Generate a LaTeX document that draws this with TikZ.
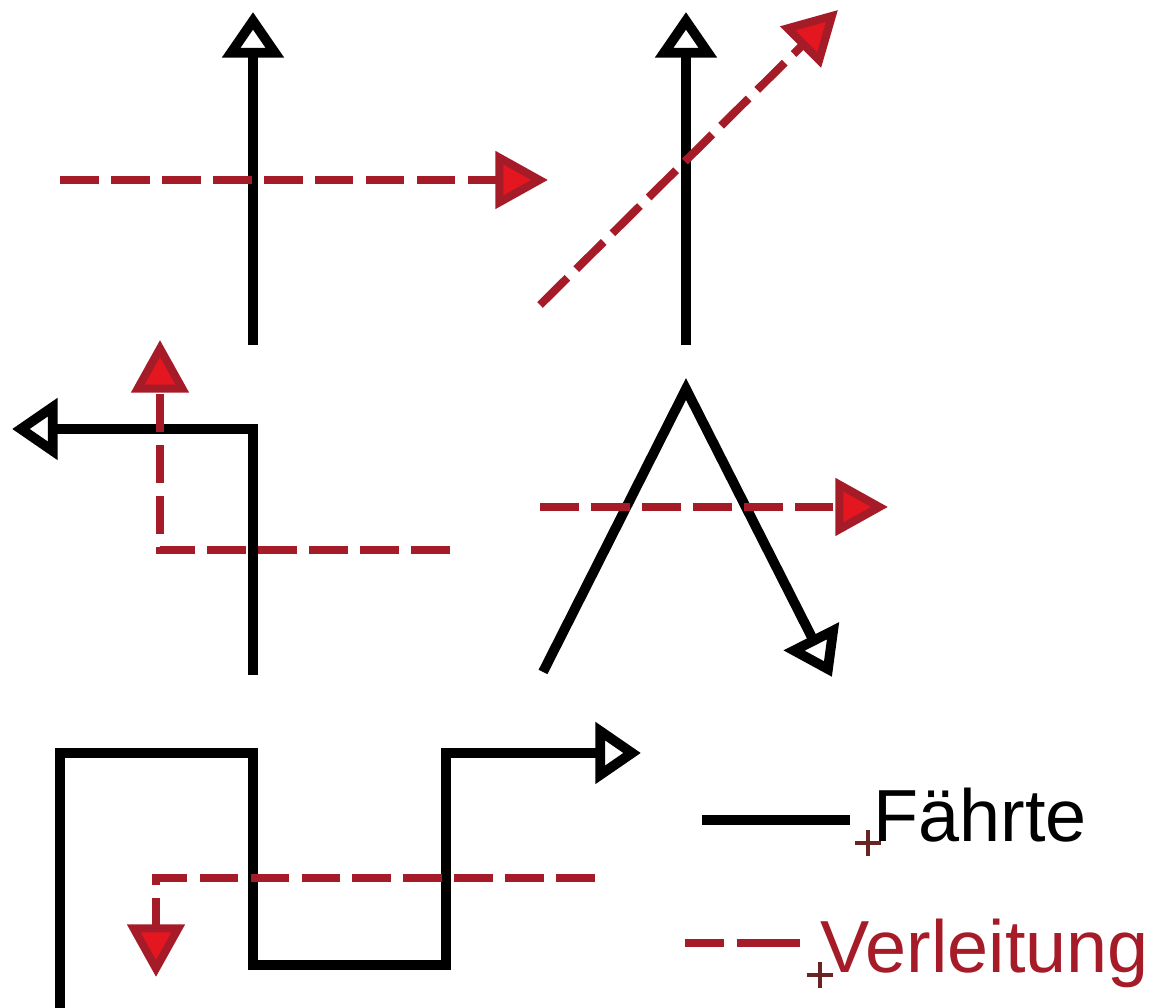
\documentclass[tikz,border=0pt]{standalone}
\usepackage{fontspec}
\setmainfont{Liberation Sans}
\usetikzlibrary{arrows.meta}
\definecolor{vrot}{RGB}{165,28,40}
\definecolor{spitze}{RGB}{228,22,32}
\definecolor{kreuz}{RGB}{105,35,35}

\begin{document}
\begin{tikzpicture}[
    faehrte/.style={line width=2.8pt, black},
    faehrtepfeil/.style={faehrte, -{Triangle[open, length=13pt, width=17pt]}},
    verl/.style={line width=2.3pt, vrot, dash pattern=on 11pt off 3.5pt},
    verlpfeil/.style={verl, -{Triangle[length=15pt, width=16pt, fill=spitze]}},
    kreuzchen/.style={kreuz, line width=0.9pt},
    every node/.style={font=\fontsize{21}{25}\selectfont, inner sep=0pt, anchor=base west}]
    \useasboundingbox (0,0) rectangle (11.59,10.08);

    % Bild 1: gerade, Verleitung quer
    \coordinate (a1) at (2.53,6.63);
    \coordinate (a2) at (2.53,9.96);
    \coordinate (va1) at (0.60,8.28);
    \coordinate (va2) at (5.48,8.28);
    \draw[faehrtepfeil] (a1) -- (a2);
    \draw[verlpfeil] (va1) -- (va2);

    % Bild 2: gerade, Verleitung schraeg
    \coordinate (b1) at (6.86,6.63);
    \coordinate (b2) at (6.86,9.96);
    \coordinate (vb1) at (5.40,7.03);
    \coordinate (vb2) at (8.38,9.98);
    \draw[faehrtepfeil] (b1) -- (b2);
    \draw[verlpfeil] (vb1) -- (vb2);

    % Bild 3: Haken nach links
    \coordinate (c1) at (2.53,3.33);
    \coordinate (c2) at (2.53,5.79);
    \coordinate (c3) at (0.12,5.79);
    \coordinate (vc1) at (4.50,4.58);
    \coordinate (vc2) at (1.60,4.58);
    \coordinate (vc3) at (1.60,6.68);
    \draw[faehrtepfeil] (c1) -- (c2) -- (c3);
    \draw[verlpfeil] (vc1) -- (vc2) -- (vc3);

    % Bild 4: Spitzkehre
    \coordinate (d1) at (5.43,3.36);
    \coordinate (d2) at (6.86,6.19);
    \coordinate (d3) at (8.32,3.31);
    \coordinate (vd1) at (5.40,5.01);
    \coordinate (vd2) at (8.88,5.01);
    \draw[faehrtepfeil] (d1) -- (d2) -- (d3);
    \draw[verlpfeil] (vd1) -- (vd2);

    % Bild 5: Maeander
    \coordinate (e1) at (0.60,0);
    \coordinate (e2) at (0.60,2.55);
    \coordinate (e3) at (2.53,2.55);
    \coordinate (e4) at (2.53,0.43);
    \coordinate (e5) at (4.46,0.43);
    \coordinate (e6) at (4.46,2.55);
    \coordinate (e7) at (6.41,2.55);
    \coordinate (ve1) at (5.95,1.30);
    \coordinate (ve2) at (1.56,1.30);
    \coordinate (ve3) at (1.56,0.31);
    \draw[faehrtepfeil] (e1) -- (e2) -- (e3) -- (e4) -- (e5) -- (e6) -- (e7);
    \draw[verlpfeil] (ve1) -- (ve2) -- (ve3);

    % Legende
    \coordinate (l1) at (7.02,1.88);
    \coordinate (l2) at (8.50,1.88);
    \coordinate (l3) at (6.85,0.65);
    \coordinate (l4) at (8.00,0.65);
    \draw[faehrte] (l1) -- (l2);
    \draw[verl, dash pattern=on 11pt off 3.7pt on 18pt] (l3) -- (l4);
    \coordinate (k1) at (8.68,1.65);
    \coordinate (k2) at (8.20,0.33);
    \draw[kreuzchen] (k1) +(-0.13,0) -- +(0.13,0) +(0,-0.13) -- +(0,0.13);
    \draw[kreuzchen] (k2) +(-0.13,0) -- +(0.13,0) +(0,-0.13) -- +(0,0.13);
    \node (t1) at (8.73,1.66) {Fährte};
    \node[text=vrot] (t2) at (8.20,0.35) {Verleitung};
\end{tikzpicture}
\end{document}
